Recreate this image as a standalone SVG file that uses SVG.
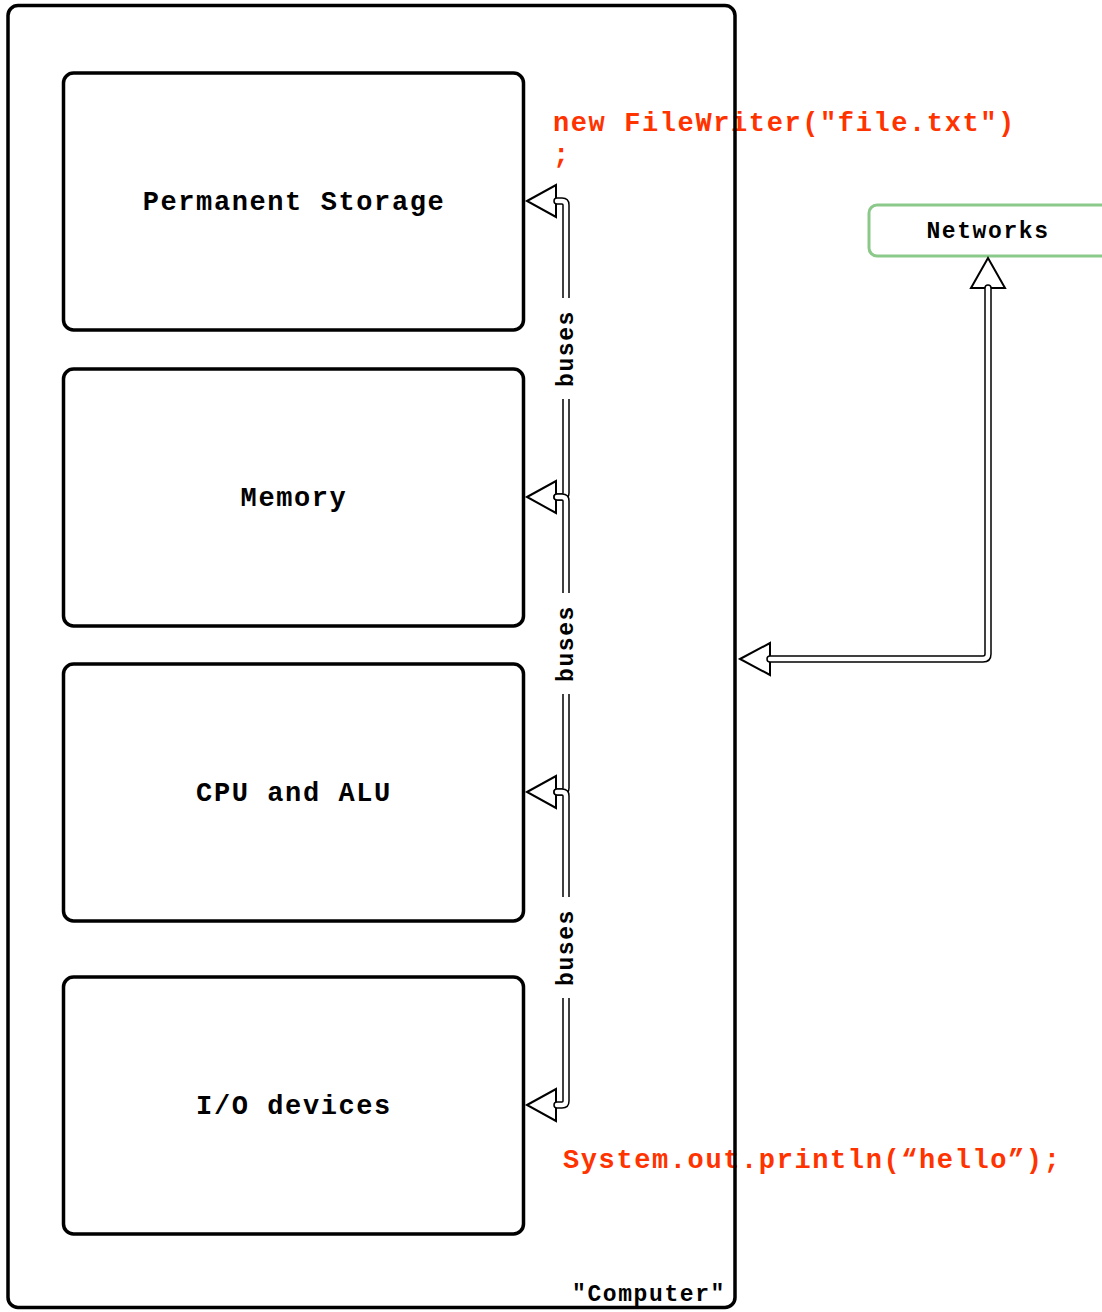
<svg xmlns="http://www.w3.org/2000/svg" width="1102" height="1312" viewBox="0 0 1102 1312">
  <style>
    .mono { font-family: "Liberation Mono", "Courier New", monospace; font-weight: bold; }
    .big { font-size: 27px; letter-spacing: 1.6px; }
    .small { font-size: 23px; letter-spacing: 1.6px; }
    .lbl { fill: #000; text-anchor: middle; }
    .code { fill: #FF3300; }
    .box { fill: #fff; stroke: #000; stroke-width: 3.5; }
    .frame { fill: none; stroke: #000; stroke-width: 3.5; }
    .net { fill: #fff; stroke: #8BC98A; stroke-width: 3; }
    .linkOuter { fill: none; stroke: #000; stroke-width: 7.5; stroke-linecap: round; stroke-linejoin: round; }
    .linkInner { fill: none; stroke: #fff; stroke-width: 4.5; stroke-linecap: round; stroke-linejoin: round; }
    .head { fill: #fff; stroke: #000; stroke-width: 2; stroke-linejoin: miter; }
    .lblbg { fill: #fff; }
  </style>

  <rect x="0" y="0" width="1102" height="1312" fill="#fff"/>

  <!-- code snippets (drawn beneath the computer frame) -->
  <g id="code-filewriter">
    <text class="mono big code" x="553" y="131">new FileWriter("file.txt")</text>
    <text class="mono big code" x="553" y="163">;</text>
  </g>
  <g id="code-println">
    <text class="mono big code" x="563" y="1168">System.out.println(“hello”);</text>
  </g>

  <!-- container -->
  <g id="computer">
    <rect class="frame" x="8" y="5.5" width="727" height="1302" rx="10"/>
    <text class="mono small" x="572" y="1301">"Computer"</text>
  </g>

  <g id="permanent-storage">
    <rect class="box" x="63.5" y="73" width="460" height="257" rx="10"/>
    <text class="mono big lbl" x="294" y="210">Permanent Storage</text>
  </g>
  <g id="memory">
    <rect class="box" x="63.5" y="369" width="460" height="257" rx="10"/>
    <text class="mono big lbl" x="294" y="506">Memory</text>
  </g>
  <g id="cpu-alu">
    <rect class="box" x="63.5" y="664" width="460" height="257" rx="10"/>
    <text class="mono big lbl" x="294" y="801">CPU and ALU</text>
  </g>
  <g id="io-devices">
    <rect class="box" x="63.5" y="977" width="460" height="257" rx="10"/>
    <text class="mono big lbl" x="294" y="1114">I/O devices</text>
  </g>

  <g id="networks">
    <rect class="net" x="869" y="205" width="240" height="51" rx="8"/>
    <text class="mono small lbl" x="988" y="238">Networks</text>
  </g>

  <!-- connectors: double-line links with open block heads at both ends -->
  <g id="connectors">
    <!-- bus: storage - memory -->
    <polygon class="head" points="527,201 556,185 556,217"/>
    <polygon class="head" points="527,497 556,481 556,513"/>
    <path class="linkOuter" d="M557,201 H562 Q566,201 566,205 V493 Q566,497 562,497 H557"/>
    <path class="linkInner" d="M557,201 H562 Q566,201 566,205 V493 Q566,497 562,497 H557"/>
    <!-- bus: memory - cpu -->
    <polygon class="head" points="527,792 556,776 556,808"/>
    <path class="linkOuter" d="M557,497 H562 Q566,497 566,501 V788 Q566,792 562,792 H557"/>
    <path class="linkInner" d="M557,497 H562 Q566,497 566,501 V788 Q566,792 562,792 H557"/>
    <!-- bus: cpu - io -->
    <polygon class="head" points="527,1105 556,1089 556,1121"/>
    <path class="linkOuter" d="M557,792 H562 Q566,792 566,796 V1101 Q566,1105 562,1105 H557"/>
    <path class="linkInner" d="M557,792 H562 Q566,792 566,796 V1101 Q566,1105 562,1105 H557"/>

    <!-- bus labels -->
    <rect class="lblbg" x="557" y="298" width="18" height="101"/>
    <text class="mono small" text-anchor="middle" transform="translate(566,348.5) rotate(-90)" y="7">buses</text>
    <rect class="lblbg" x="557" y="593" width="18" height="101"/>
    <text class="mono small" text-anchor="middle" transform="translate(566,643.5) rotate(-90)" y="7">buses</text>
    <rect class="lblbg" x="557" y="897" width="18" height="101"/>
    <text class="mono small" text-anchor="middle" transform="translate(566,947.5) rotate(-90)" y="7">buses</text>

    <!-- networks - computer -->
    <polygon class="head" points="988,258 971,288 1005,288"/>
    <polygon class="head" points="740,659 770,643 770,675"/>
    <path class="linkOuter" d="M988,288 V654 Q988,659 983,659 H770"/>
    <path class="linkInner" d="M988,288 V654 Q988,659 983,659 H770"/>
  </g>
</svg>
